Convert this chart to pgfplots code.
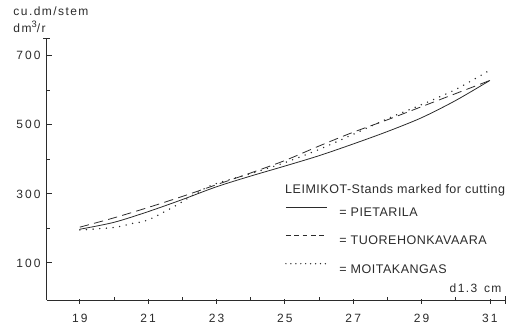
\documentclass[border=0pt]{standalone}
\usepackage{fontspec}
\setmainfont{Liberation Sans}
\newfontfamily\tickfont[LetterSpace=18]{Liberation Sans}
\newfontfamily\labfont[LetterSpace=12]{Liberation Sans}
\newfontfamily\legfont[LetterSpace=4]{Liberation Sans}
\usepackage{pgfplots}
\pgfplotsset{compat=1.18}
\definecolor{ink}{HTML}{2B2B2B}

\pgfplotstableread{
x y
19 197
20 217
21 248
22 283
23 320
24 351
25 380
26 410
27 444
28 480
29 520
30 570
31 628
}\pietarila

\pgfplotstableread{
x y
19 203
20 230
21 260
22 292
23 326
24 360
25 396
26 438
27 478
28 514
29 552
30 590
31 628
}\tuorehonkavaara

\pgfplotstableread{
x y
19 195
20 202
20.5 213
21 224
21.8 265
22.8 322
24 358
25 390
26 428
27 472
28 517
29 558
30 602
31 658
}\moitakangas

\begin{document}
\begin{tikzpicture}
\useasboundingbox (-35pt,-17.25pt) rectangle (350.5pt,225pt);
\begin{axis}[
  at={(0,0)}, anchor=south west,
  scale only axis, width=343.7pt, height=196.5pt,
  xmin=18.03, xmax=31.44, ymin=-8, ymax=751,
  axis x line=bottom, axis y line=left,
  axis line style={-, ink, line width=0.6pt},
  tick align=inside,
  xtick={19,21,...,31}, minor xtick={20,22,...,30},
  ytick={100,300,500,700}, minor ytick={200,400,600},
  major tick length=3.75pt, minor tick length=2.2pt,
  major x tick style={yshift=-3pt},
  tick style={ink, line width=0.6pt},
  /pgf/number format/assume math mode=true,
  xticklabel style={font=\tickfont\fontsize{9}{10}\selectfont, inner sep=0pt, text height=6.5pt, text depth=0pt, yshift=-10pt, text=ink},
  yticklabel style={font=\tickfont\fontsize{9}{10}\selectfont, inner sep=0pt, text height=6.5pt, text depth=0pt, xshift=-4.3pt, text=ink},
  clip=false,
  legend style={at={(rel axis cs:0.52,0.355)}, anchor=north west, draw=none, fill=none,
    inner sep=0pt, row sep=13.6pt,
    nodes={inner sep=0pt, text height=7pt, text depth=0pt, font=\legfont\fontsize{9.4}{10}\selectfont, text=ink}},
  legend cell align=left,
  legend image code/.code={\draw[#1] (0pt,3.5pt) -- (31pt,3.5pt); \path (39.5pt,3.5pt);},
]
\addlegendimage{ink, line width=0.6pt}
\addlegendimage{ink, line width=0.6pt, dash pattern=on 3.6pt off 2.6pt}
\addlegendimage{ink, line width=1.1pt, line cap=round, dash pattern=on 0pt off 3.7pt}
\addplot[ink, line width=0.6pt, smooth, forget plot] table {\pietarila};
\addplot[ink, line width=0.6pt, smooth, dash pattern=on 7pt off 4pt, forget plot] table {\tuorehonkavaara};
\addplot[ink, line width=1.2pt, line cap=round, smooth, dash pattern=on 0pt off 5pt, forget plot] table {\moitakangas};
\legend{= PIETARILA, = TUOREHONKAVAARA, = MOITAKANGAS}
\draw[ink, line width=0.6pt] (rel axis cs:-0.008,1) -- (rel axis cs:0.008,1);
\draw[ink, line width=0.6pt] (rel axis cs:1,-0.015) -- (rel axis cs:1,0.015);
\node[anchor=west, inner sep=0pt, font=\labfont\fontsize{9}{10}\selectfont, text=ink] at (rel axis cs:-0.073,1.103) {cu.dm/stem};
\node[anchor=west, inner sep=0pt, font=\labfont\fontsize{9}{10}\selectfont, text=ink] at (rel axis cs:-0.073,1.042) {dm\raisebox{0.45em}{\fontsize{7}{7}\selectfont 3}/r};
\node[anchor=west, inner sep=0pt, font=\legfont\fontsize{9.4}{10}\selectfont, text=ink] at (rel axis cs:0.52,0.42) {LEIMIKOT-Stands marked for cutting};
\node[anchor=east, inner sep=0pt, font=\labfont\fontsize{9}{10}\selectfont, text=ink] at (rel axis cs:0.993,0.046) {d1.3\hspace{5pt}cm};
\end{axis}
\end{tikzpicture}
\end{document}
